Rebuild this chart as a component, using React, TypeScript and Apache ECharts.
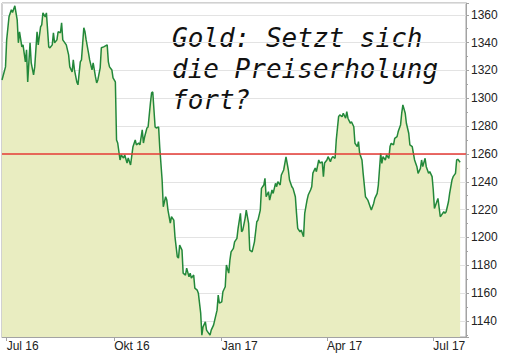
import React, { useEffect, useRef } from 'react';
import * as echarts from 'echarts';

// Day offsets relative to 1 July 2016 and gold price (USD/oz)
const daysSinceJul2016 = [
  -4, -1, 0, 2, 4, 5, 7, 9, 10, 11, 13, 14, 16, 17, 18, 20, 21, 23, 24, 26, 27, 29, 30, 31, 33, 34, 36, 37, 39, 40,
  41, 43, 44, 46, 47, 48, 51, 53, 54, 56, 57, 58, 60, 61, 63, 64, 66, 67, 68, 70, 71, 73, 74, 76, 77, 78, 80, 81, 83, 86,
  87, 88, 90, 91, 93, 94, 95, 97, 98, 100, 101, 103, 104, 106, 108, 110, 111, 113, 114, 116, 117, 118, 120, 121, 123, 124, 125, 127, 128, 130,
  131, 133, 134, 136, 137, 138, 140, 141, 143, 144, 146, 147, 148, 150, 151, 153, 154, 156, 157, 158, 160, 161, 163, 164, 166, 167, 168, 170, 171, 172,
  174, 175, 177, 178, 180, 181, 182, 184, 185, 187, 188, 190, 191, 192, 194, 195, 197, 198, 200, 201, 202, 204, 205, 207, 208, 210, 211, 212, 214, 215,
  217, 218, 220, 221, 222, 224, 225, 227, 228, 230, 231, 232, 234, 235, 237, 239, 241, 242, 244, 245, 247, 248, 249, 251, 252, 254, 255, 257, 258, 260,
  261, 262, 264, 265, 267, 268, 270, 271, 272, 274, 275, 277, 278, 279, 281, 282, 284, 285, 287, 288, 290, 291, 292, 294, 295, 297, 298, 300, 301, 302,
  304, 305, 307, 308, 309, 311, 312, 314, 315, 317, 318, 320, 321, 322, 324, 325, 327, 328, 329, 331, 332, 334, 335, 337, 338, 339, 341, 342, 344, 345,
  347, 348, 349, 351, 352, 354, 355, 356, 358, 359, 361, 362, 364, 365, 366, 368, 369, 371, 372, 374, 375, 376, 378, 379, 381, 382, 384, 385, 386, 388,
];

const goldPrices = [
  1313.2, 1322.6, 1342.0, 1358.6, 1363.6, 1361.7, 1366.5, 1356.4, 1339.9, 1347.8, 1337.0, 1338.4, 1326.2, 1334.8, 1311.8, 1339.9, 1325.5, 1316.8, 1322.6, 1347.8, 1338.4, 1351.4, 1352.8, 1361.4, 1358.6, 1361.4, 1337.0, 1336.3, 1338.4, 1347.1,
  1339.9, 1342.0, 1347.8, 1347.1, 1354.3, 1342.0, 1338.4, 1331.2, 1322.6, 1319.0, 1327.6, 1320.4, 1311.8, 1309.7, 1326.2, 1327.6, 1350.7, 1347.8, 1342.0, 1332.7, 1327.6, 1320.4, 1325.5, 1315.4, 1311.1, 1313.2, 1321.9, 1336.3, 1337.0, 1338.4,
  1326.2, 1322.6, 1320.4, 1314.7, 1311.8, 1270.1, 1267.9, 1255.7, 1259.3, 1257.1, 1259.3, 1253.5, 1257.1, 1252.1, 1265.0, 1270.1, 1266.5, 1267.9, 1266.5, 1277.3, 1267.9, 1272.2, 1278.7, 1279.4, 1296.7, 1303.9, 1304.6, 1279.4, 1278.7, 1279.4,
  1264.3, 1241.3, 1222.1, 1229.3, 1226.9, 1219.7, 1210.4, 1214.9, 1212.5, 1200.5, 1186.1, 1185.2, 1194.5, 1190.9, 1174.4, 1173.0, 1178.0, 1171.7, 1174.4, 1170.8, 1173.0, 1163.6, 1162.2, 1160.0, 1145.6, 1129.8, 1135.8, 1139.4, 1133.4, 1132.2,
  1129.8, 1133.4, 1137.0, 1140.6, 1147.8, 1158.6, 1152.8, 1153.8, 1161.0, 1164.6, 1180.2, 1174.4, 1183.8, 1189.7, 1192.2, 1196.9, 1199.4, 1206.6, 1217.3, 1204.1, 1205.3, 1213.8, 1219.7, 1210.2, 1190.9, 1189.7, 1193.3, 1196.9, 1211.3, 1212.5,
  1219.7, 1235.3, 1237.7, 1242.5, 1229.3, 1232.9, 1226.9, 1234.1, 1231.7, 1238.9, 1236.5, 1240.1, 1237.7, 1244.9, 1248.5, 1257.9, 1248.5, 1241.3, 1236.5, 1235.3, 1229.3, 1217.3, 1206.6, 1204.1, 1205.3, 1200.5, 1217.3, 1226.9, 1230.5, 1234.1,
  1236.5, 1246.3, 1249.9, 1247.3, 1255.7, 1253.5, 1254.3, 1243.7, 1253.5, 1255.7, 1258.1, 1254.5, 1256.9, 1258.1, 1256.9, 1270.1, 1286.8, 1288.1, 1286.8, 1289.3, 1285.7, 1290.4, 1285.7, 1282.1, 1283.2, 1279.6, 1267.7, 1265.3, 1268.9, 1260.5,
  1255.7, 1246.1, 1229.3, 1228.1, 1226.9, 1222.1, 1219.7, 1224.5, 1228.1, 1231.7, 1237.7, 1260.5, 1253.3, 1258.1, 1255.7, 1259.3, 1256.9, 1265.3, 1267.7, 1266.5, 1271.3, 1272.5, 1276.1, 1280.9, 1289.3, 1295.3, 1289.3, 1282.1, 1274.9, 1266.5,
  1265.3, 1260.5, 1255.7, 1250.9, 1246.1, 1249.7, 1255.7, 1250.9, 1256.9, 1250.9, 1246.1, 1247.3, 1243.7, 1234.1, 1220.9, 1225.7, 1228.1, 1214.9, 1216.1, 1218.5, 1217.3, 1218.5, 1225.7, 1231.7, 1241.3, 1243.7, 1246.1, 1255.7, 1256.2, 1254.1,
];

const axisStartDay = -4; // 27 Jun 2016
const axisEndDay = 393; // 29 Jul 2017
const priceMin = 1128.5;
const priceMax = 1368.5;
const referenceLevel = 1260;
const monthNamesDe = ['Jan', 'Feb', 'Mär', 'Apr', 'Mai', 'Jun', 'Jul', 'Aug', 'Sep', 'Okt', 'Nov', 'Dez'];
const titleLines = ['Gold: Setzt sich', 'die Preiserholung', 'fort?'];

const DAY = 86400000;
const BASE = Date.UTC(2016, 6, 1);

export default function App() {
  const ref = useRef<HTMLDivElement>(null);

  useEffect(() => {
    if (!ref.current) return;
    const chart = echarts.init(ref.current, null, { renderer: 'svg' });
    const seriesData = daysSinceJul2016.map((d, i) => [BASE + d * DAY, goldPrices[i]]);
    const axisFont = '"Liberation Sans", Arial, sans-serif';

    chart.setOption({
      animation: false,
      useUTC: true,
      backgroundColor: '#ffffff',
      grid: {
        left: 2,
        right: 40,
        top: 3,
        bottom: 20,
        show: true,
        borderColor: '#a3a3a3',
        borderWidth: 1,
      },
      xAxis: {
        type: 'time',
        min: BASE + axisStartDay * DAY,
        max: BASE + axisEndDay * DAY,
        splitNumber: 4,
        axisLine: { show: true, lineStyle: { color: '#a3a3a3', width: 1 } },
        axisTick: { show: true, length: 4, lineStyle: { color: '#a3a3a3' } },
        splitLine: { show: false },
        axisLabel: {
          color: '#222',
          fontSize: 12,
          fontFamily: axisFont,
          align: 'left',
          margin: 3,
          formatter: (v: number) => {
            const dt = new Date(v);
            return monthNamesDe[dt.getUTCMonth()] + ' ' + String(dt.getUTCFullYear()).slice(2);
          },
        },
      },
      yAxis: {
        type: 'value',
        position: 'right',
        min: priceMin,
        max: priceMax,
        splitNumber: 12,
        axisLine: { show: true, lineStyle: { color: '#a3a3a3', width: 1 } },
        axisTick: { show: true, length: 3, lineStyle: { color: '#a3a3a3' } },
        minorTick: { show: true, splitNumber: 2, length: 2, lineStyle: { color: '#a3a3a3' } },
        splitLine: { show: true, lineStyle: { color: '#e3e3e3', width: 1 } },
        axisLabel: {
          color: '#222',
          fontSize: 12,
          fontFamily: axisFont,
          margin: 5,
          showMinLabel: false,
          showMaxLabel: false,
          formatter: (v: number) => String(v),
        },
      },
      graphic: titleLines.map((t, i) => ({
        type: 'text',
        x: 172,
        y: 38.3 + i * 30.6,
        silent: true,
        style: {
          text: t,
          fill: '#111',
          font: 'italic 26px "DejaVu Sans Mono", monospace',
          verticalAlign: 'middle',
          align: 'left',
        },
      })),
      series: [
        {
          type: 'line',
          data: seriesData,
          showSymbol: false,
          symbol: 'none',
          lineStyle: { color: '#23883a', width: 1.5 },
          areaStyle: { color: '#e9edc1', opacity: 1, origin: 'start' },
          markLine: {
            silent: true,
            symbol: 'none',
            label: { show: false },
            lineStyle: { color: '#e53a35', width: 1.5, type: 'solid' },
            data: [{ yAxis: referenceLevel }],
          },
        },
      ],
    });

    return () => chart.dispose();
  }, []);

  return (
    <div
      ref={ref}
      style={{ position: 'absolute', left: 0, top: 0, width: 506, height: 357, background: '#fff' }}
    />
  );
}
